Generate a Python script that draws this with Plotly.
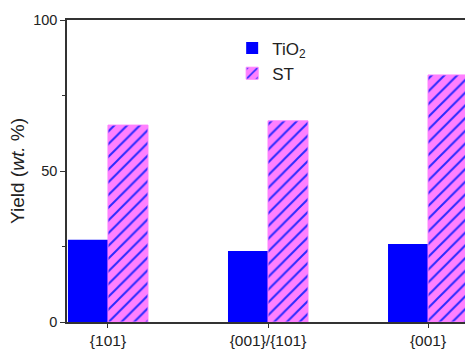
import plotly.graph_objects as go

categories = ["{101}", "{001}/{101}", "{001}"]
tio2_yield = [27.2, 23.5, 25.8]
st_yield = [65.2, 66.6, 81.8]
y_ticks = [0, 50, 100]

FONT = "Liberation Sans, Arial, sans-serif"

fig = go.Figure()
fig.add_trace(go.Bar(
    x=categories, y=tio2_yield, name="TiO<sub>2</sub>",
    marker=dict(color="#0000ff", line=dict(width=0)),
))
fig.add_trace(go.Bar(
    x=categories, y=st_yield, name="ST",
    marker=dict(
        color="#ff80ff",
        line=dict(color="#ff80ff", width=1),
        pattern=dict(shape="/", fgcolor="#2a2aff", bgcolor="#ff80ff",
                     size=9, solidity=0.22, fillmode="replace"),
    ),
))

fig.update_layout(
    width=465, height=349,
    margin=dict(l=67, r=0, t=20, b=27),
    paper_bgcolor="white", plot_bgcolor="white",
    barmode="group", bargap=0.5, bargroupgap=0,
    font=dict(family=FONT, size=14, color="#222"),
    showlegend=True,
    legend=dict(
        x=0.415, y=0.965, xanchor="left", yanchor="top",
        bgcolor="rgba(0,0,0,0)", font=dict(family=FONT, size=17, color="#222"),
        tracegroupgap=0, itemwidth=30,
    ),
)

fig.update_xaxes(
    type="category", range=[-0.256, 2.231], automargin=False,
    showline=True, linecolor="#333", linewidth=1.5, mirror=True,
    ticks="outside", ticklen=4, tickcolor="#333", tickwidth=1.2,
    showgrid=False, zeroline=False,
    tickfont=dict(family=FONT, size=15.5),
)
fig.update_yaxes(
    range=[0, 100], tickvals=y_ticks, automargin=False,
    showline=True, linecolor="#333", linewidth=1.5,
    ticks="outside", ticklen=5, tickcolor="#333", tickwidth=1.2,
    minor=dict(ticks="outside", ticklen=3, dtick=25, tickcolor="#333", tickwidth=1.2, showgrid=False),
    showgrid=False, zeroline=False,
    tickfont=dict(family=FONT, size=14.5),
    title=dict(text="Yield (<i>wt.</i> %)", font=dict(family=FONT, size=19), standoff=3),
)

fig.write_html("out.html")
